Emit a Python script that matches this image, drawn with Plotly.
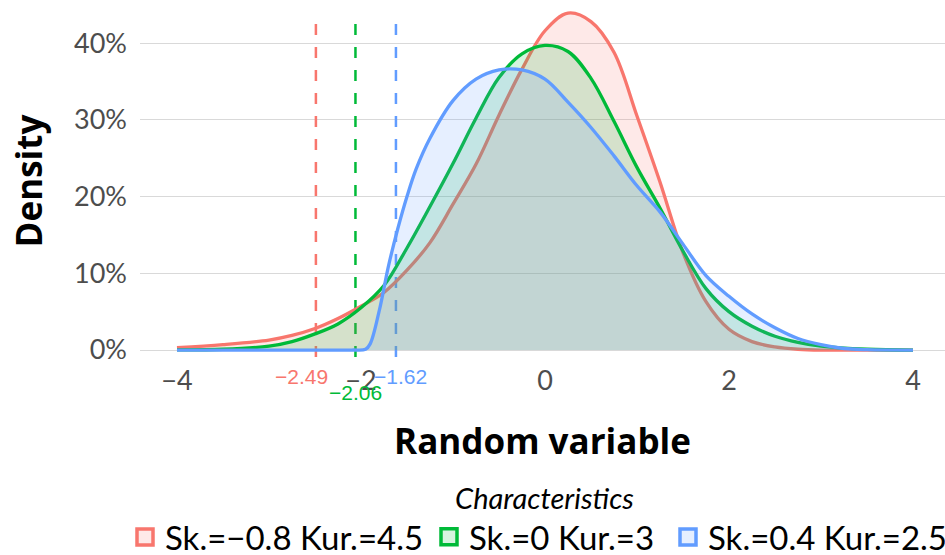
import plotly.graph_objects as go

# ---- data ----
names = ["Sk.=\u22120.8 Kur.=4.5", "Sk.=0 Kur.=3", "Sk.=0.4 Kur.=2.5"]
line_colors = ["#F8766D", "#00BA38", "#619CFF"]
fill_colors = ["rgba(248,118,109,0.16)", "rgba(0,186,56,0.16)", "rgba(97,156,255,0.16)"]

red_x = [-4.0, -3.5, -3.0, -2.75, -2.5, -2.25, -2.0, -1.75, -1.5, -1.25, -1.0, -0.75, -0.5, -0.25,
         0.0, 0.25, 0.5, 0.75, 1.0, 1.25, 1.5, 1.75, 2.0, 2.25, 2.5, 2.75, 3.0, 3.5, 4.0]
red_y = [0.003, 0.007, 0.013, 0.019, 0.028, 0.041, 0.057, 0.075, 0.104, 0.140, 0.190, 0.242, 0.306, 0.366,
         0.416, 0.439, 0.428, 0.388, 0.305, 0.219, 0.127, 0.063, 0.027, 0.011, 0.004, 0.001, 0.0, 0.0, 0.0]

green_x = [-4.0, -3.5, -3.0, -2.75, -2.5, -2.25, -2.0, -1.75, -1.5, -1.25, -1.0, -0.75, -0.5, -0.25,
           0.0, 0.25, 0.5, 0.75, 1.0, 1.25, 1.5, 1.75, 2.0, 2.25, 2.5, 2.75, 3.0, 3.5, 4.0]
green_y = [0.0003, 0.001, 0.005, 0.011, 0.021, 0.034, 0.055, 0.084, 0.133, 0.187, 0.243, 0.302, 0.355, 0.386,
           0.397, 0.389, 0.354, 0.298, 0.238, 0.185, 0.129, 0.080, 0.050, 0.031, 0.018, 0.010, 0.005, 0.001, 0.0]

blue_x = [-4.0, -3.0, -2.1, -1.95, -1.9, -1.8, -1.7, -1.6, -1.5, -1.4, -1.25, -1.0, -0.75, -0.5, -0.25,
          0.0, 0.25, 0.5, 0.75, 1.0, 1.25, 1.5, 1.75, 2.0, 2.25, 2.5, 2.75, 3.0, 3.25, 3.5, 4.0]
blue_y = [0.0, 0.0, 0.0, 0.001, 0.008, 0.052, 0.110, 0.158, 0.200, 0.236, 0.276, 0.325, 0.353, 0.365, 0.365,
          0.353, 0.323, 0.290, 0.253, 0.214, 0.180, 0.138, 0.097, 0.070, 0.047, 0.029, 0.015, 0.007, 0.002, 0.0005, 0.0]

cutoffs = [-2.49, -2.06, -1.62]
cutoff_labels = ["\u22122.49", "\u22122.06", "\u22121.62"]
cutoff_label_yshift = [-26, -42, -26]
cutoff_label_xshift = [-14, 0, 5]

x_ticks = [-4, -2, 0, 2, 4]
y_ticks = [0, 0.1, 0.2, 0.3, 0.4]
y_tick_text = ["0%", "10%", "20%", "30%", "40%"]

series = [(red_x, red_y), (green_x, green_y), (blue_x, blue_y)]
legend_ids = ["legend", "legend2", "legend3"]
legend_left_px = [125, 429, 668]

fig = go.Figure()
for (xs, ys), lc, fc in zip(series, line_colors, fill_colors):
    fig.add_trace(go.Scatter(
        x=xs, y=ys, mode="lines", fill="tozeroy", fillcolor=fc,
        line=dict(color=lc, width=3.3, shape="spline", smoothing=1.0),
        showlegend=False, hoverinfo="skip"))

# legend keys (one legend per key so the row is never wrapped)
for name, lc, fc, lid in zip(names, line_colors, fill_colors, legend_ids):
    fig.add_trace(go.Scatter(
        x=[None], y=[None], mode="markers", name=name, legend=lid,
        marker=dict(symbol="square", size=16, color=fc, line=dict(color=lc, width=3.5))))

for xv, lab, lc, ys, xs in zip(cutoffs, cutoff_labels, line_colors, cutoff_label_yshift, cutoff_label_xshift):
    fig.add_shape(type="line", xref="x", yref="y", x0=xv, x1=xv, y0=-0.009, y1=0.43,
                  line=dict(color=lc, width=2.5, dash="11px,12px"), layer="between")
    fig.add_annotation(x=xv, y=0, xref="x", yref="y", text=lab, showarrow=False,
                       yshift=ys, xshift=xs, yanchor="middle", xanchor="center",
                       font=dict(family="Liberation Sans", size=21, color=lc))

TITLE_FONT = "Open Sans"
W, H = 945, 555
ML, MR, MT, MB = 140, 0, 0, 193
PW, PH = W - ML - MR, H - MT - MB

legend_common = dict(orientation="h", xref="paper", yref="paper", xanchor="left",
                     y=(PH - (H + 10)) / PH, yanchor="bottom", bgcolor="rgba(0,0,0,0)",
                     font=dict(family="Lato", size=33, color="black"),
                     itemsizing="trace", itemwidth=30)
legends = {}
for lid, lx in zip(legend_ids, legend_left_px):
    legends[lid] = dict(legend_common, x=(lx - ML) / PW)
legends["legend2"]["title"] = dict(text="<i>Characteristics</i>", side="top center",
                                   font=dict(family="Lato", size=29, color="black"))

fig.update_layout(
    width=W, height=H,
    margin=dict(l=ML, r=MR, t=MT, b=MB, autoexpand=False),
    plot_bgcolor="white", paper_bgcolor="white",
    font=dict(family="Lato", color="#4d4d4d"),
    xaxis=dict(range=[-4.402, 4.348], tickvals=x_ticks, showgrid=False, zeroline=False,
               showline=False, ticks="", ticklabelstandoff=0,
               tickfont=dict(size=27, color="#4d4d4d"),
               title=dict(text="Random variable", standoff=34,
                          font=dict(family=TITLE_FONT, size=35, color="black", weight="bold"))),
    yaxis=dict(range=[-0.0156, 0.4561], tickvals=y_ticks, ticktext=y_tick_text,
               showgrid=True, gridcolor="#d9d9d9", gridwidth=1.3, zeroline=False,
               showline=False, ticks="", ticklabelstandoff=12,
               tickfont=dict(size=27, color="#4d4d4d"),
               title=dict(text="Density", standoff=20,
                          font=dict(family=TITLE_FONT, size=35, color="black", weight="bold"))),
    **legends,
)

fig.write_html("out.html", config={"displayModeBar": False},
               post_script="document.body.style.margin='0';")
